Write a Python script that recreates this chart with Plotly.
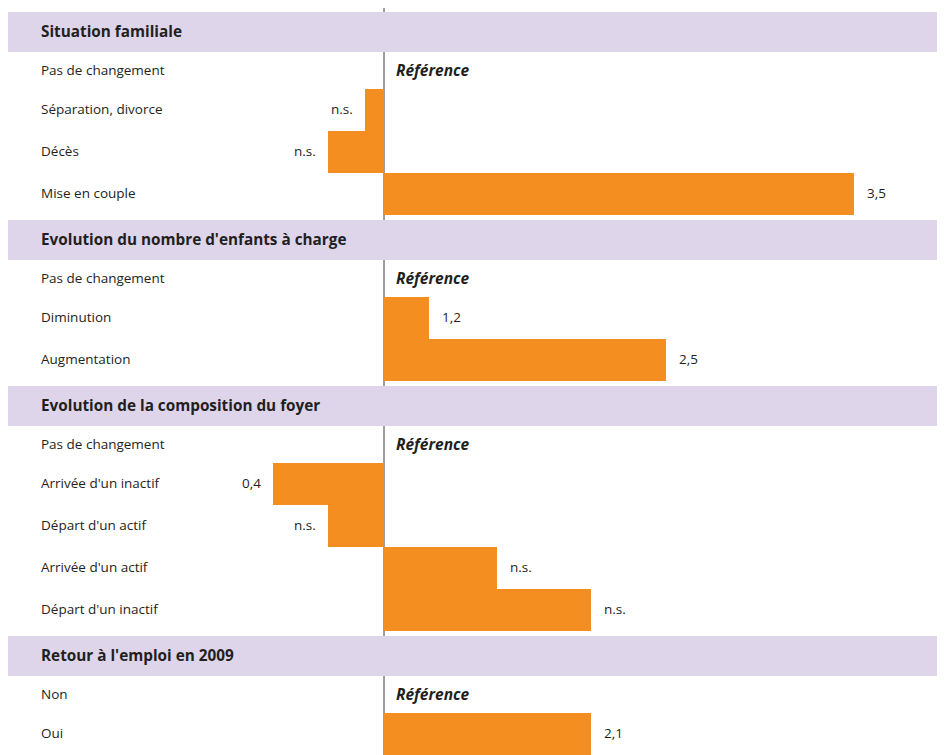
import numpy as np
import plotly.graph_objects as go

# odds ratios (reference category = 1)
section_titles = [
    "Situation familiale",
    "Evolution du nombre d'enfants à charge",
    "Evolution de la composition du foyer",
    "Retour à l'emploi en 2009",
]

situation_labels = ["Pas de changement", "Séparation, divorce", "Décès", "Mise en couple"]
situation_odds = [None, 0.9, 0.7, 3.5]
situation_text = ["Référence", "n.s.", "n.s.", "3,5"]

enfants_labels = ["Pas de changement", "Diminution", "Augmentation"]
enfants_odds = [None, 1.24, 2.5]
enfants_text = ["Référence", "1,2", "2,5"]

foyer_labels = ["Pas de changement", "Arrivée d'un inactif", "Départ d'un actif",
                "Arrivée d'un actif", "Départ d'un inactif"]
foyer_odds = [None, 0.41, 0.7, 1.6, 2.1]
foyer_text = ["Référence", "0,4", "n.s.", "n.s.", "n.s."]

emploi_labels = ["Non", "Oui"]
emploi_odds = [None, 2.1]
emploi_text = ["Référence", "2,1"]

sections = [
    (situation_labels, situation_odds, situation_text),
    (enfants_labels, enfants_odds, enfants_text),
    (foyer_labels, foyer_odds, foyer_text),
    (emploi_labels, emploi_odds, emploi_text),
]

ORANGE = "#F58E20"
PURPLE = "#DED5EA"
TEXT = "#231F20"
FONT = "Open Sans"

# page has an 8px body margin, so the figure is drawn from (8, 8)
W, H = 937, 747
OFF = 8

# row heights (y axis unit = 1 px of the page)
HEADER_GAP, HEADER_BAND = 5, 40
REF_H, BAR_H = 37, 42
TOP = 7

header_rows = []  # (band top, band bottom, title)
rows = []  # (center, height, label, odds, text)
y = TOP
for title, (labels, odds, texts) in zip(section_titles, sections):
    header_rows.append((y + HEADER_GAP, y + HEADER_GAP + HEADER_BAND, title))
    y += HEADER_GAP + HEADER_BAND
    for lab, o, t in zip(labels, odds, texts):
        h = REF_H if o is None else BAR_H
        rows.append((y + h / 2, h, lab, o, t))
        y += h

bar_rows = [r for r in rows if r[3] is not None]
bar_y = [r[0] for r in bar_rows]
bar_w = [r[1] for r in bar_rows]
bar_odds = np.array([r[3] for r in bar_rows])

fig = go.Figure()

fig.add_trace(
    go.Bar(
        y=bar_y,
        x=bar_odds - 1,
        base=1,
        orientation="h",
        width=bar_w,
        marker=dict(color=ORANGE, line=dict(width=0)),
        hoverinfo="skip",
        showlegend=False,
    )
)

shapes = [
    dict(type="line", xref="x", yref="paper", x0=1, x1=1, y0=0, y1=1,
         line=dict(color="#3c3c3c", width=1), layer="below")
]
annotations = []
label_x = (39 - OFF) / W

for y0, y1, title in header_rows:
    shapes.append(dict(type="rect", xref="paper", yref="y",
                       x0=0, x1=1, y0=y0, y1=y1,
                       fillcolor=PURPLE, line=dict(width=0), layer="above"))
    annotations.append(dict(xref="paper", yref="y", x=label_x, y=(y0 + y1) / 2,
                            yshift=1,
                            text="<b>" + title + "</b>", showarrow=False,
                            xanchor="left", yanchor="middle",
                            font=dict(family=FONT, size=15.3, color=TEXT)))

for yc, h, lab, o, t in rows:
    annotations.append(dict(xref="paper", yref="y", x=label_x, y=yc, yshift=1,
                            text=lab, showarrow=False,
                            xanchor="left", yanchor="middle",
                            font=dict(family=FONT, size=13.5, color=TEXT)))
    if o is None:
        annotations.append(dict(xref="x", yref="y", x=1, y=yc, xshift=10, yshift=1,
                                text="<b><i>" + t + "</i></b>", showarrow=False,
                                xanchor="left", yanchor="middle",
                                font=dict(family=FONT, size=15.5, color=TEXT)))
    else:
        right = o >= 1
        annotations.append(dict(xref="x", yref="y", x=o, y=yc, yshift=1,
                                xshift=11 if right else -10,
                                text=t, showarrow=False,
                                xanchor="left" if right else "right",
                                yanchor="middle",
                                font=dict(family=FONT, size=13.5, color=TEXT)))

# 188 px per unit of odds ratio, reference line at x = 384 px on the page
px_per_unit = 188
zero_px = 384 - OFF

fig.update_layout(
    width=W,
    height=H,
    margin=dict(l=0, r=0, t=0, b=0),
    paper_bgcolor="white",
    plot_bgcolor="white",
    bargap=0,
    xaxis=dict(
        range=[1 - zero_px / px_per_unit, 1 + (W - zero_px) / px_per_unit],
        visible=False,
        fixedrange=True,
    ),
    yaxis=dict(
        range=[OFF + H, OFF],
        visible=False,
        fixedrange=True,
    ),
    shapes=shapes,
    annotations=annotations,
)

fig.write_html("out.html")
